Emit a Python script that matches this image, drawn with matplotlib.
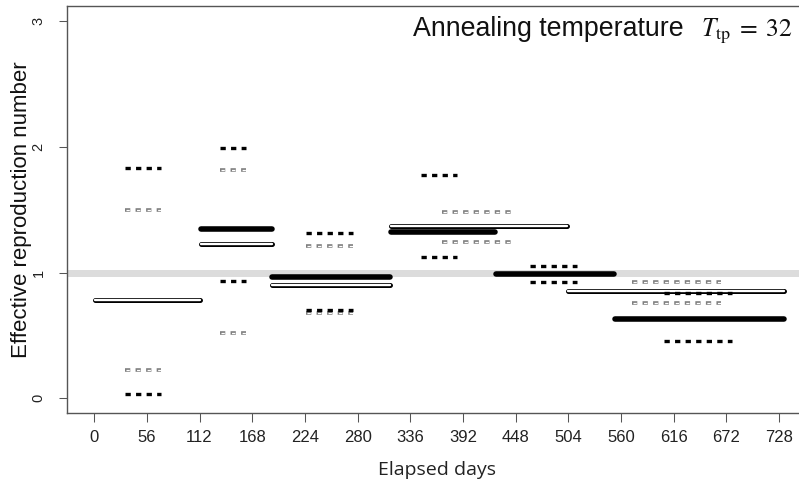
import numpy as np
import matplotlib
matplotlib.use("Agg")
from matplotlib import pyplot as plt

plt.rcParams['lines.scale_dashes'] = False
plt.rcParams['mathtext.fontset'] = 'stix'

# open (hollow) bars
open_start = [1, 113.5, 189, 315, 504]
open_end = [113, 188.5, 314, 503, 733.5]
open_rt = [0.781, 1.227, 0.904, 1.370, 0.851]

# filled bars
fill_start = [113.5, 189, 315, 427, 553]
fill_end = [188.5, 314, 426, 552, 733.5]
fill_rt = [1.346, 0.962, 1.325, 0.988, 0.630]

# black dashed intervals
bci_start = [32.9, 133.9, 225.3, 347.2, 463.3, 606]
bci_end = [71.5, 161.5, 275.2, 386.1, 513, 678.3]
bci_lo = [0.032, 0.930, 0.700, 1.126, 0.928, 0.455]
bci_hi = [1.834, 1.990, 1.312, 1.773, 1.049, 0.837]

# gray dashed intervals
gci_start = [32.9, 133.9, 225.3, 370.1, 572]
gci_end = [71.5, 161.5, 275.2, 442.8, 666]
gci_lo = [0.228, 0.522, 0.680, 1.240, 0.758]
gci_hi = [1.494, 1.818, 1.208, 1.484, 0.924]

xticks = list(range(0, 729, 56))
yticks = [0, 1, 2, 3]

fig = plt.figure(figsize=(7.99, 4.82), dpi=100)
ax = fig.add_axes([0.0835, 0.1425, 0.926, 0.845])
ax.set_xlim(-29.12, 757.12)
ax.set_ylim(-0.12, 3.12)

axcol = '#555555'
for side in ['left', 'bottom', 'top']:
    ax.spines[side].set_color(axcol)
    ax.spines[side].set_linewidth(1.0)
ax.spines['right'].set_visible(False)

ax.axhline(1, color='#dcdcdc', lw=5, zorder=1)

for s, e, v in zip(open_start, open_end, open_rt):
    ax.plot([s, e], [v, v], color='black', lw=3.6, solid_capstyle='round', zorder=2)
    ax.plot([s, e], [v, v], color='white', lw=1.7, solid_capstyle='round', zorder=2.1)

for s, e, v in zip(fill_start, fill_end, fill_rt):
    ax.plot([s, e], [v, v], color='black', lw=4.0, solid_capstyle='round', zorder=2.2)

for s, e, lo, hi in zip(gci_start, gci_end, gci_lo, gci_hi):
    for v in (lo, hi):
        ax.plot([s, e], [v, v], color='#7f7f7f', lw=2.6, linestyle=(0, (3.8, 3.8)),
                dash_capstyle='butt', zorder=3)
        ax.plot([s, e], [v, v], color='white', lw=0.9, linestyle=(6.9, (2.4, 5.2)),
                dash_capstyle='butt', zorder=3.1)

for s, e, lo, hi in zip(bci_start, bci_end, bci_lo, bci_hi):
    for v in (lo, hi):
        ax.plot([s, e], [v, v], color='black', lw=2.4, linestyle=(0, (3.8, 3.8)),
                dash_capstyle='butt', zorder=4)

ax.set_xticks(xticks, [str(t) for t in xticks], fontfamily='Liberation Sans', fontsize=12)
ax.set_yticks(yticks, [str(t) for t in yticks], fontfamily='Liberation Sans',
              fontsize=10.5, rotation=90, va='center')
ax.tick_params(axis='both', colors=axcol, length=8.5 * 0.72, width=0.75, labelcolor='#222222')
ax.tick_params(axis='x', pad=6)
ax.tick_params(axis='y', pad=9)

ax.set_xlabel("Elapsed days", fontfamily='Open Sans', fontsize=14, color='#222222', labelpad=11.5)
ax.set_ylabel("Effective reproduction number", fontfamily='Liberation Sans', fontsize=16,
              color='#111111', labelpad=0)

fig.text(413 / 799, 1 - 36 / 482, "Annealing temperature", fontfamily='Liberation Sans',
         fontsize=19.3, color='#111111', ha='left', va='baseline')
fig.text(701 / 799, 1 - 36 / 482, r"$T_{\mathrm{tp}}\;=\;32$", fontsize=18.5,
         color='#111111', ha='left', va='baseline')

fig.savefig("out.png", dpi=100)
